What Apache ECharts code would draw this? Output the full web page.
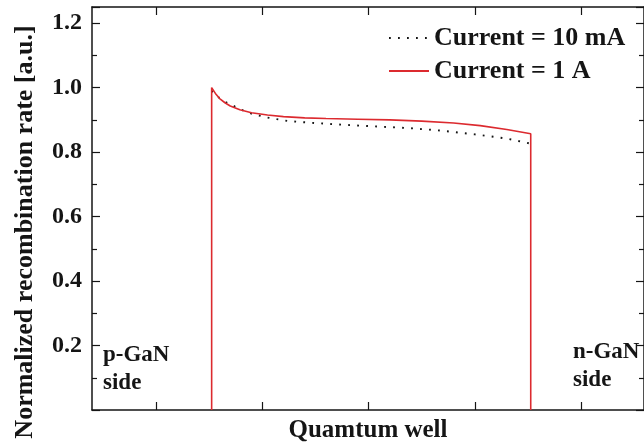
<!DOCTYPE html>
<html>
<head>
<meta charset="utf-8">
<script src="https://cdn.jsdelivr.net/npm/echarts@6/dist/echarts.min.js"></script>
<style>
  html, body { margin: 0; padding: 0; background: #fff; }
  #chart { width: 644px; height: 448px; }
</style>
</head>
<body>
<div id="chart"></div>
<script>
// Position across the structure (arbitrary units) and normalized recombination rate
const pos10mA = [1.125, 1.18, 1.25, 1.32, 1.40, 1.50, 1.65, 1.85, 2.10, 2.40, 2.70, 3.00, 3.30, 3.60, 3.90, 4.125];
const rate10mA = [0.99, 0.972, 0.956, 0.945, 0.932, 0.919, 0.907, 0.896, 0.890, 0.884, 0.879, 0.874, 0.866, 0.855, 0.842, 0.826];

const pos1A = [1.125, 1.125, 1.16, 1.20, 1.25, 1.30, 1.39, 1.50, 1.65, 1.80, 2.00, 2.20, 2.50, 2.80, 3.10, 3.40, 3.65, 3.90, 4.125, 4.125];
const rate1A = [0, 1.0, 0.982, 0.966, 0.953, 0.943, 0.931, 0.922, 0.915, 0.910, 0.906, 0.904, 0.902, 0.900, 0.896, 0.890, 0.882, 0.870, 0.857, 0];

const seriesNames = ['Current = 10 mA', 'Current = 1 A'];
const xTicks = [0.6, 1.6, 2.6, 3.6, 4.6];
const xRange = [0, 5.19];
const yRange = [0, 1.25];
const yStep = 0.2;

const FONT = '"Liberation Serif", "Times New Roman", serif';
const INK = '#151515';
const RED = '#dc2a2f';

const zip = (xs, ys) => xs.map((x, i) => [x, ys[i]]);

// frame lines stay on the grid edges
const frameLine = { show: true, onZero: false, lineStyle: { color: INK, width: 1.5 } };
// ticks point into the plot area
const majorTick = (extra) => Object.assign({ show: true, inside: true, length: 8, lineStyle: { color: INK, width: 1.2 } }, extra || {});
const minorTk = { show: true, splitNumber: 2, length: 5, lineStyle: { color: INK, width: 1.2 } };

const chart = echarts.init(document.getElementById('chart'), null, { renderer: 'canvas' });
chart.setOption({
  animation: false,
  backgroundColor: '#fff',
  grid: { left: 92, top: 7, right: -2, bottom: 36, containLabel: false },
  legend: {
    orient: 'vertical',
    left: 388,
    top: 25,
    padding: 0,
    itemWidth: 40,
    itemHeight: 26,
    itemGap: 7,
    data: seriesNames,
    itemStyle: { opacity: 0 },
    textStyle: { fontFamily: FONT, fontWeight: 'bold', fontSize: 26, color: INK, lineHeight: 26 }
  },
  xAxis: [
    {
      type: 'value', position: 'bottom', min: xRange[0], max: xRange[1],
      axisLine: frameLine,
      axisTick: majorTick({ customValues: xTicks }),
      axisLabel: { show: false },
      splitLine: { show: false },
      name: 'Quamtum well', nameLocation: 'middle', nameGap: 8,
      nameTextStyle: { fontFamily: FONT, fontWeight: 'bold', fontSize: 25, color: INK, verticalAlign: 'top' }
    },
    {
      type: 'value', position: 'top', min: xRange[0], max: xRange[1],
      axisLine: frameLine,
      axisTick: majorTick({ customValues: xTicks }),
      axisLabel: { show: false },
      splitLine: { show: false }
    }
  ],
  yAxis: [
    {
      type: 'value', position: 'left', min: yRange[0], max: yRange[1], interval: yStep,
      axisLine: frameLine,
      axisTick: majorTick(),
      minorTick: minorTk,
      axisLabel: {
        show: true, margin: 10, showMinLabel: false, showMaxLabel: false,
        fontFamily: FONT, fontWeight: 'bold', fontSize: 24, color: INK,
        formatter: v => v.toFixed(1)
      },
      splitLine: { show: false }
    },
    {
      type: 'value', position: 'right', min: yRange[0], max: yRange[1], interval: yStep,
      axisLine: frameLine,
      axisTick: majorTick(),
      minorTick: minorTk,
      axisLabel: { show: false },
      splitLine: { show: false }
    }
  ],
  series: [
    {
      name: seriesNames[0], type: 'line', xAxisIndex: 0, yAxisIndex: 0,
      data: zip(pos10mA, rate10mA),
      symbol: 'none', smooth: false,
      color: INK,
      lineStyle: { color: INK, width: 1.9, type: [1.8, 7.2] },
      z: 2
    },
    {
      name: seriesNames[1], type: 'line', xAxisIndex: 0, yAxisIndex: 0,
      data: zip(pos1A, rate1A),
      symbol: 'none', smooth: false,
      color: RED,
      lineStyle: { color: RED, width: 1.6 },
      z: 3
    }
  ],
  graphic: [
    {
      type: 'text', rotation: Math.PI / 2,
      x: 25, y: 232,
      style: {
        text: 'Normalized recombination rate [a.u.]',
        font: 'bold 26px ' + FONT, fill: INK,
        textAlign: 'center', textVerticalAlign: 'middle'
      }
    },
    {
      type: 'text', x: 103, y: 341,
      style: { text: 'p-GaN\nside', font: 'bold 23px ' + FONT, fill: INK, lineHeight: 28 }
    },
    {
      type: 'text', x: 573, y: 338,
      style: { text: 'n-GaN\nside', font: 'bold 23px ' + FONT, fill: INK, lineHeight: 28 }
    }
  ]
});
</script>
</body>
</html>
